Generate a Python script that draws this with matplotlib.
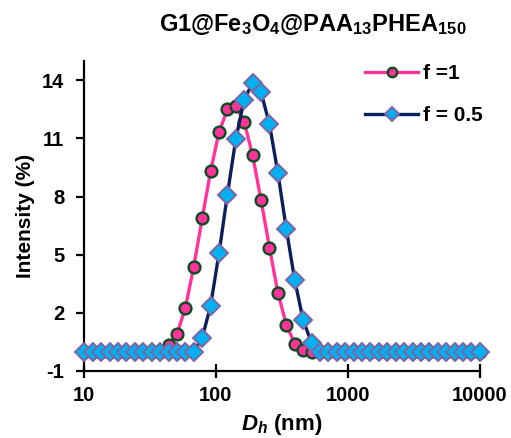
import matplotlib
matplotlib.use("Agg")
import matplotlib.pyplot as plt

# ---- fonts: Arial-like bold everywhere ----
plt.rcParams['font.family'] = ['Liberation Sans', 'DejaVu Sans']
plt.rcParams['font.weight'] = 'bold'
plt.rcParams['axes.unicode_minus'] = False
plt.rcParams['mathtext.fontset'] = 'custom'
plt.rcParams['mathtext.rm'] = 'Liberation Sans:bold'
plt.rcParams['mathtext.it'] = 'Liberation Sans:italic:bold'
plt.rcParams['mathtext.bf'] = 'Liberation Sans:bold'

# ---- data (size classes in nm, intensity in %) ----
size_nm = [10.1, 11.7, 13.54, 15.69, 18.17, 21.04, 24.36, 28.21, 32.67, 37.84,
           43.82, 50.75, 58.77, 68.06, 78.82, 91.28, 105.7, 122.4, 141.8, 164.2,
           190.1, 220.2, 255.0, 295.3, 342.0, 396.1, 458.7, 531.2, 615.1, 712.4,
           825.0, 955.4, 1106, 1281, 1484, 1718, 1990, 2305, 2669, 3091,
           3580, 4145, 4801, 5560, 6439, 7456, 8635, 10000]

int_f1 = [0, 0, 0, 0, 0, 0, 0, 0, 0, 0,
          0.35, 0.89, 2.25, 4.38, 6.87, 9.3, 11.32, 12.5, 12.66, 11.84,
          10.12, 7.81, 5.36, 3.04, 1.39, 0.41, 0.06, 0, 0, 0,
          0, 0, 0, 0, 0, 0, 0, 0, 0, 0,
          0, 0, 0, 0, 0, 0, 0, 0]

int_f05 = [0, 0, 0, 0, 0, 0, 0, 0, 0, 0,
           0, 0, 0, 0, 0.7, 2.37, 5.07, 8.1, 10.98, 13.0,
           13.87, 13.38, 11.73, 9.22, 6.33, 3.69, 1.63, 0.45, 0, 0,
           0, 0, 0, 0, 0, 0, 0, 0, 0, 0,
           0, 0, 0, 0, 0, 0, 0, 0]

labels = ["f =1", "f = 0.5"]
y_ticks = [-1, 2, 5, 8, 11, 14]
x_ticks = [10, 100, 1000, 10000]

# ---- figure ----
fig = plt.figure(figsize=(5.11, 4.38), dpi=100)
ax = fig.add_axes([0.164, 0.153, 0.775, 0.708])

ax.plot(size_nm, int_f1, color='#FF3399', lw=2.4, marker='o', ms=8.5,
        mfc='#FF3399', mec='#0E4A22', mew=1.7, clip_on=False, zorder=3,
        label=labels[0])
ax.plot(size_nm, int_f05, color='#0B1F5C', lw=2.4, marker='D', ms=9.5,
        mfc='#00B0F0', mec='#8064A2', mew=1.4, clip_on=False, zorder=4,
        label=labels[1])

ax.set_xscale('log')
ax.set_xlim(10, 10000)
ax.set_ylim(-1, 15)
ax.set_xticks(x_ticks)
ax.set_xticklabels([str(t) for t in x_ticks])
ax.xaxis.set_minor_locator(matplotlib.ticker.NullLocator())
ax.set_yticks(y_ticks)

for s in ['top', 'right']:
    ax.spines[s].set_visible(False)
for s in ['left', 'bottom']:
    ax.spines[s].set_linewidth(1.6)

ax.tick_params(axis='x', direction='inout', length=10, width=1.6, labelsize=14.5, pad=6)
ax.tick_params(axis='y', direction='out', length=6, width=1.6, labelsize=14.5, pad=8)

ax.set_xlabel(r"$D_h$ (nm)", fontsize=16, fontweight='bold', labelpad=5)
ax.set_ylabel("Intensity (%)", fontsize=15, fontweight='bold', labelpad=5)

fig.text(0.612, 0.943, r"G1@Fe$_3$O$_4$@PAA$_{13}$PHEA$_{150}$", ha='center', va='center',
         fontsize=17, fontweight='bold')

leg = ax.legend(loc='upper left', bbox_to_anchor=(0.71, 0.99), frameon=False,
                borderaxespad=0, borderpad=0,
                handlelength=2.55, handletextpad=0.25, labelspacing=1.1,
                fontsize=15, markerscale=0.8)

fig.savefig("out.png", dpi=100)
